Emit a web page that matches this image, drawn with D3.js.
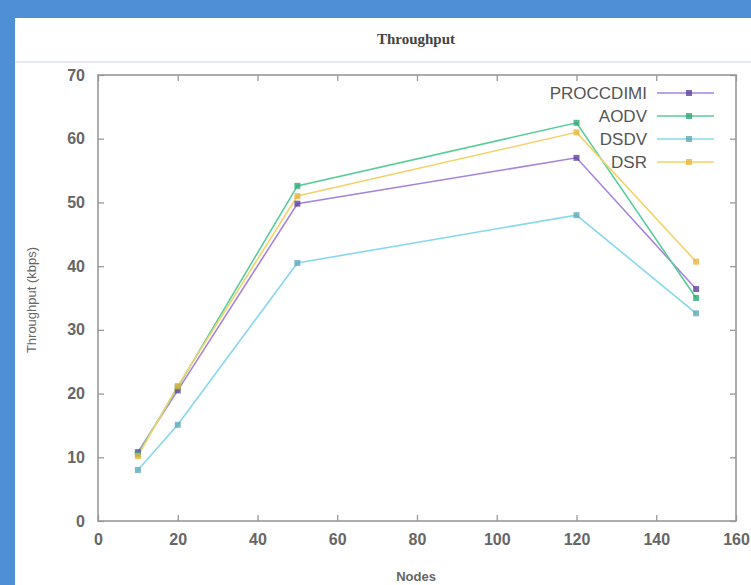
<!DOCTYPE html>
<html><head><meta charset="utf-8">
<script src="https://cdn.jsdelivr.net/npm/d3@7"></script>
<style>
html,body{margin:0;padding:0;background:#fff;}
svg{display:block;}
</style></head>
<body>
<svg id="c" width="751" height="585"></svg>
<script>
const nodes = [10, 20, 50, 120, 150];
const proccdimi = [10.8, 20.5, 49.8, 57.0, 36.4];
const aodv = [10.5, 21.0, 52.6, 62.5, 35.0];
const dsdv = [8.0, 15.1, 40.5, 48.0, 32.6];
const dsr = [10.2, 21.2, 51.0, 61.0, 40.7];
const seriesNames = ["PROCCDIMI", "AODV", "DSDV", "DSR"];
const xTicks = [0, 20, 40, 60, 80, 100, 120, 140, 160];
const yTicks = [0, 10, 20, 30, 40, 50, 60, 70];

const colors = ["#a684dc", "#58cc9a", "#86d8ea", "#f4d26a"];
const markerColors = ["#5e42a0", "#30a876", "#5fa9b9", "#eab43a"];
const seriesVals = [proccdimi, aodv, dsdv, dsr];
const font = "Liberation Sans, Arial, sans-serif";

const svg = d3.select("#c");
svg.append("rect").attr("x",0).attr("y",0).attr("width",751).attr("height",585).attr("fill","#ffffff");
svg.append("rect").attr("x",0).attr("y",0).attr("width",751).attr("height",18).attr("fill","#4f8fd6");
svg.append("rect").attr("x",0).attr("y",0).attr("width",15).attr("height",585).attr("fill","#4f8fd6");
svg.append("line").attr("x1",15).attr("x2",751).attr("y1",62).attr("y2",62).attr("stroke","#dde2e8").attr("stroke-width",1.5);

const x = d3.scaleLinear().domain([0,160]).range([98,736]);
const y = d3.scaleLinear().domain([0,70]).range([521,75]);

const g = svg.append("g");
g.append("rect").attr("x",x(0)).attr("y",y(70)).attr("width",x(160)-x(0)).attr("height",y(0)-y(70))
  .attr("fill","none").attr("stroke","#999").attr("stroke-width",1.6);

const ax = g.append("g").attr("transform",`translate(0,${y(0)})`)
  .call(d3.axisBottom(x).tickValues(xTicks).tickSize(-6).tickPadding(13).tickFormat(d3.format("d")));
const ay = g.append("g").attr("transform",`translate(${x(0)},0)`)
  .call(d3.axisLeft(y).tickValues(yTicks).tickSize(-6).tickPadding(13).tickFormat(d3.format("d")));
const axT = g.append("g").attr("transform",`translate(0,${y(70)})`)
  .call(d3.axisTop(x).tickValues(xTicks).tickSize(-6).tickFormat(""));
const ayR = g.append("g").attr("transform",`translate(${x(160)},0)`)
  .call(d3.axisRight(y).tickValues(yTicks).tickSize(-6).tickFormat(""));
[ax,ay,axT,ayR].forEach(a=>{
  a.select(".domain").remove();
  a.selectAll(".tick line").attr("stroke","#999").attr("stroke-width",1.3);
  a.selectAll("text").attr("fill","#666").style("font-family",font).style("font-size","16px").style("font-weight","bold");
});

const line = d3.line().x((d,i)=>x(nodes[i])).y(d=>y(d));
seriesVals.forEach((vals,k)=>{
  g.append("path").datum(vals).attr("d",line).attr("fill","none")
   .attr("stroke",colors[k]).attr("stroke-width",1.6);
});
seriesVals.forEach((vals,k)=>{
  g.selectAll(null).data(vals).enter().append("rect")
   .attr("x",(d,i)=>x(nodes[i])-3).attr("y",d=>y(d)-3).attr("width",6).attr("height",6)
   .attr("fill",markerColors[k]).attr("opacity",0.8);
});

const ly = [93, 116, 139, 162];
seriesNames.forEach((n,k)=>{
  g.append("text").attr("x",647).attr("y",ly[k]).attr("dy","0.35em").attr("text-anchor","end")
   .attr("fill","#555").style("font-family",font).style("font-size","17px").text(n);
  g.append("line").attr("x1",657).attr("x2",714).attr("y1",ly[k]).attr("y2",ly[k])
   .attr("stroke",colors[k]).attr("stroke-width",1.3);
  g.append("rect").attr("x",686).attr("y",ly[k]-3).attr("width",6).attr("height",6).attr("fill",markerColors[k]).attr("opacity",0.8);
});

svg.append("text").attr("x",416).attr("y",39).attr("dy","0.35em").attr("text-anchor","middle")
  .attr("fill","#444").style("font-family","Liberation Serif, serif").style("font-size","15px").style("font-weight","bold").text("Throughput");
svg.append("text").attr("x",416).attr("y",576).attr("dy","0.35em").attr("text-anchor","middle")
  .attr("fill","#666").style("font-family",font).style("font-size","13px").style("font-weight","bold").text("Nodes");
svg.append("text").attr("transform","translate(31,300) rotate(-90)").attr("dy","0.35em").attr("text-anchor","middle")
  .attr("fill","#666").style("font-family",font).style("font-size","13px").text("Throughput (kbps)");
</script>
</body></html>
